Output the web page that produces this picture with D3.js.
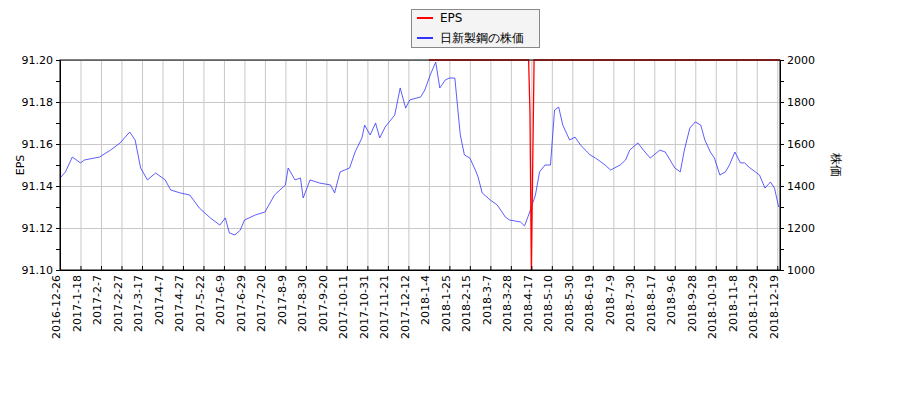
<!DOCTYPE html>
<html><head><meta charset="utf-8">
<script src="https://cdn.jsdelivr.net/npm/d3@7"></script>
<style>body{margin:0;background:#fff}text{font-family:"DejaVu Sans",sans-serif;font-size:11px}</style>
</head><body><div id="chart"></div>
<script>
// tick labels every 15 trading days
var tickLabels = ['2016-12-26','2017-1-18','2017-2-7','2017-2-27','2017-3-17','2017-4-7','2017-4-27','2017-5-22','2017-6-9','2017-6-29','2017-7-20','2017-8-9','2017-8-30','2017-9-20','2017-10-11','2017-10-31','2017-11-21','2017-12-12','2018-1-4','2018-1-25','2018-2-15','2018-3-7','2018-3-28','2018-4-17','2018-5-10','2018-5-30','2018-6-19','2018-7-9','2018-7-30','2018-8-17','2018-9-6','2018-9-28','2018-10-19','2018-11-8','2018-11-29','2018-12-19'];
var priceIdx = [0,4,9,15,18,29,37,44,51,55,59,64,70,77,81,88,95,102,110,117,121,124,128,132,135,143,150,157,165,167,172,176,178,183,190,198,201,205,212,216,221,223,227,231,234,238,245,249,253,256,264,267,271,275,278,282,285,289,293,296,300,304,306,309,315,320,326,329,337,340,343,348,351,355,359,362,365,368,373,377,381,388,392,399,403,410,414,417,423,427,432,439,443,450,454,457,461,465,469,472,476,479,483,487,490,494,498,501,505,509,512,516,520,523,526];
var priceY = [178,172,157,163,160,157,150,143,132,140,168,180,173,180,190,193,195,208,218,225,218,233,235,230,220,215,212,195,185,168,180,178,198,180,183,185,193,172,168,152,138,125,135,123,138,127,115,88,108,100,97,90,75,62,88,80,78,78,135,155,158,170,177,193,200,205,217,220,222,226,215,195,172,165,165,110,107,125,140,137,145,155,158,165,170,165,160,150,143,150,158,150,152,168,172,150,128,122,125,140,152,158,175,172,165,152,163,163,168,172,175,188,182,188,207];
var price = priceY.map(function(y){ return Math.round(1000 + (270 - y) * 1000 / 210); });
var epsIdx = [270,343,344,345,346,347,527];
var eps = [91.2,91.2,91.175,91.10,91.15,91.2,91.2];

var m = {l:60, r:780, t:60, b:270};
var svg = d3.select('#chart').append('svg').attr('width',900).attr('height',400);
var x = d3.scaleLinear().domain([0,527]).range([m.l,m.r]);
var yL = d3.scaleLinear().domain([91.10,91.20]).range([m.b,m.t]);
var yR = d3.scaleLinear().domain([1000,2000]).range([m.b,m.t]);

// grid
var g = svg.append('g').attr('stroke','#c8c8c8').attr('stroke-width',1);
tickLabels.forEach(function(t,i){ g.append('line').attr('x1',x(i*15)+.5).attr('x2',x(i*15)+.5).attr('y1',m.t).attr('y2',m.b); });
d3.range(91.10,91.201,0.02).forEach(function(v){ g.append('line').attr('x1',m.l).attr('x2',m.r).attr('y1',Math.round(yL(v))+.5).attr('y2',Math.round(yL(v))+.5); });

// lines
svg.append('path').datum(priceIdx).attr('fill','none').attr('stroke','#3333ff').attr('stroke-width',0.8)
  .attr('d', d3.line().x(function(d){return x(d);}).y(function(d,i){return yR(price[i]);}));
svg.append('path').datum(epsIdx).attr('fill','none').attr('stroke','#ff0000').attr('stroke-width',1.3)
  .attr('d', d3.line().x(function(d){return x(d);}).y(function(d,i){return yL(eps[i]);}));

// axes
var ax = svg.append('g').attr('transform','translate(0,'+m.b+')')
  .call(d3.axisBottom(x).tickValues(d3.range(0,526,15)).tickSize(-4).tickSizeOuter(0).tickFormat(function(d){return tickLabels[d/15];}));
ax.selectAll('text').attr('transform','rotate(-90)').attr('text-anchor','end').attr('x',-5).attr('y',-4).attr('dy','0.35em');
var al = svg.append('g').attr('transform','translate('+m.l+',0)')
  .call(d3.axisLeft(yL).tickValues(d3.range(91.10,91.201,0.01)).tickSize(4).tickSizeOuter(0).tickFormat(function(d){ return Math.round(d*100)%2===0 ? d3.format('.2f')(d) : ''; }));
var ar = svg.append('g').attr('transform','translate('+m.r+',0)')
  .call(d3.axisRight(yR).tickValues(d3.range(1000,2001,100)).tickSize(4).tickSizeOuter(0).tickFormat(function(d){ return d%200===0 ? d : ''; }));
[ax,al,ar].forEach(function(a){ a.selectAll('text').attr('fill','#000').style('font-size','11px'); a.select('.domain').attr('stroke','#000'); });
svg.append('rect').attr('x',m.l).attr('y',m.t).attr('width',m.r-m.l).attr('height',m.b-m.t).attr('fill','none').attr('stroke','#000');

svg.append('text').attr('transform','translate(24,165) rotate(-90)').attr('text-anchor','middle').text('EPS');
svg.append('text').attr('transform','translate(832,165) rotate(90)').attr('text-anchor','middle').style('font-size','12px').text('株価');

// legend
var lg = svg.append('g');
lg.append('rect').attr('x',411.5).attr('y',9.5).attr('width',128).attr('height',38).attr('fill','#f4f4f4').attr('stroke','#888');
[['EPS','#ff0000'],['日新製鋼の株価','#3333ff']].forEach(function(e,i){
  lg.append('line').attr('x1',417).attr('x2',433).attr('y1',18+i*20).attr('y2',18+i*20).attr('stroke',e[1]).attr('stroke-width',2);
  lg.append('text').attr('x',440).attr('y',22+i*20).style('font-size','12px').text(e[0]);
});
</script></body></html>
